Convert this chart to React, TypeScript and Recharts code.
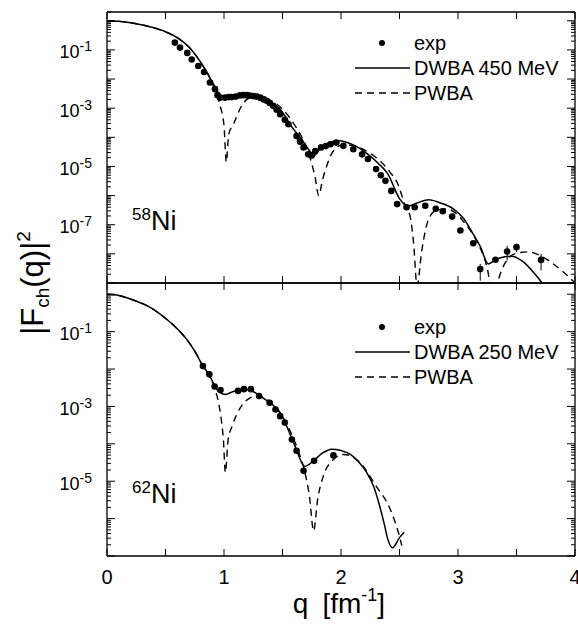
import React from 'react'
import { ComposedChart, Line, Scatter, XAxis, YAxis, Legend, ErrorBar } from 'recharts'

// x axis
const qTicks = [0, 0.5, 1, 1.5, 2, 2.5, 3, 3.5, 4]
const qLabels = [0, 1, 2, 3, 4]

// y axis decades
const topDecades = [1, 1e-1, 1e-2, 1e-3, 1e-4, 1e-5, 1e-6, 1e-7, 1e-8, 1e-9]
const topLabeled = [1e-1, 1e-3, 1e-5, 1e-7]
const bottomDecades = [1, 1e-1, 1e-2, 1e-3, 1e-4, 1e-5, 1e-6, 1e-7]
const bottomLabeled = [1e-1, 1e-3, 1e-5]
const minorSteps = [2, 3, 4, 5, 6, 7, 8, 9]

// 58Ni, DWBA 450 MeV
const topDwbaQ = [0, 0.1, 0.25, 0.4, 0.5, 0.6, 0.7, 0.8, 0.88, 0.95, 0.98, 1.05, 1.16, 1.25, 1.35, 1.48, 1.59, 1.65, 1.72, 1.77, 1.82, 1.9, 1.98, 2.1, 2.22, 2.32, 2.4, 2.5, 2.57, 2.65, 2.75, 2.85, 2.96, 3.05, 3.12, 3.19, 3.26, 3.32, 3.4, 3.46, 3.55, 3.65, 3.71, 3.75]
const topDwbaF = [1.0, 0.955, 0.79, 0.575, 0.42, 0.263, 0.126, 0.038, 0.011, 3.5e-3, 2.3e-3, 2.5e-3, 3.0e-3, 2.8e-3, 2.0e-3, 9.1e-4, 2.0e-4, 1.0e-4, 4.0e-5, 2.4e-5, 4.0e-5, 6.6e-5, 7.6e-5, 5.6e-5, 2.8e-5, 1.26e-5, 5.6e-6, 7.9e-7, 4.3e-7, 5.6e-7, 7.2e-7, 5.6e-7, 3.5e-7, 1.6e-7, 5.6e-8, 1.8e-8, 4.5e-9, 6.3e-9, 7.9e-9, 8.3e-9, 5.6e-9, 2.2e-9, 1.1e-9, 6.0e-10]

// 58Ni, PWBA
const topPwbaQ = [0, 0.1, 0.25, 0.4, 0.5, 0.6, 0.7, 0.8, 0.88, 0.93, 0.97, 1.0, 1.02, 1.04, 1.08, 1.16, 1.25, 1.35, 1.48, 1.6, 1.7, 1.75, 1.78, 1.81, 1.84, 1.88, 1.93, 2.02, 2.12, 2.25, 2.33, 2.42, 2.48, 2.55, 2.59, 2.62, 2.65, 2.69, 2.75, 2.82, 2.9, 2.98, 3.06, 3.15, 3.25, 3.3, 3.36, 3.42, 3.5, 3.6, 3.7, 3.8, 3.9, 4.0]
const topPwbaF = [1.0, 0.955, 0.794, 0.575, 0.417, 0.263, 0.126, 0.038, 0.0107, 3.5e-3, 1.1e-3, 2.5e-4, 1.4e-5, 1.26e-4, 2.8e-4, 1.4e-3, 2.5e-3, 2.2e-3, 1.1e-3, 2.8e-4, 5.0e-5, 1.26e-5, 4.0e-6, 1.0e-6, 3.2e-6, 1.1e-5, 3.2e-5, 5.6e-5, 5.0e-5, 2.8e-5, 1.6e-5, 6.3e-6, 2.8e-6, 4.5e-7, 2.0e-7, 2.5e-8, 8.0e-10, 1.26e-8, 1.6e-7, 3.2e-7, 3.5e-7, 2.5e-7, 1.1e-7, 3.2e-8, 3.2e-9, 3.2e-10, 2.0e-9, 6.3e-9, 1.05e-8, 1.17e-8, 8.9e-9, 5.0e-9, 2.4e-9, 1.0e-9]

// 58Ni, experiment
const topExpQ = [0.58, 0.624, 0.686, 0.724, 0.78, 0.83, 0.88, 0.923, 0.945, 0.966, 1.008, 1.04, 1.066, 1.1, 1.137, 1.165, 1.194, 1.22, 1.25, 1.28, 1.31, 1.34, 1.365, 1.39, 1.42, 1.45, 1.48, 1.52, 1.55, 1.62, 1.65, 1.68, 1.72, 1.75, 1.78, 1.83, 1.87, 1.91, 1.96, 2.02, 2.105, 2.18, 2.23, 2.3, 2.34, 2.38, 2.43, 2.48, 2.56, 2.63, 2.72, 2.81, 2.87, 2.95, 3.02, 3.13, 3.19, 3.32, 3.42, 3.5, 3.71]
const topExpF = [0.178, 0.12, 0.079, 0.047, 0.028, 0.0174, 7.6e-3, 4.5e-3, 2.8e-3, 2.3e-3, 2.3e-3, 2.4e-3, 2.4e-3, 2.5e-3, 2.75e-3, 2.8e-3, 2.8e-3, 2.7e-3, 2.6e-3, 2.5e-3, 2.3e-3, 2.0e-3, 1.8e-3, 1.5e-3, 1.2e-3, 8.9e-4, 6.2e-4, 4.0e-4, 2.8e-4, 1.1e-4, 7.1e-5, 4.5e-5, 2.6e-5, 2.4e-5, 3.4e-5, 4.5e-5, 5.0e-5, 5.8e-5, 6.6e-5, 5.1e-5, 3.9e-5, 2.6e-5, 1.8e-5, 8.1e-6, 5.0e-6, 3.2e-6, 1.45e-6, 5.1e-7, 4.0e-7, 4.0e-7, 4.5e-7, 3.5e-7, 2.9e-7, 1.9e-7, 6.3e-8, 2.3e-8, 3.0e-9, 6.3e-9, 1.2e-8, 1.7e-8, 6.2e-9]
const topErrQ = [3.19, 3.42, 3.5, 3.71]
const topErrLow = [1.2e-9, 5.9e-9, 1.15e-8, 2.7e-9]
const topErrHigh = [4.5e-9, 1.9e-8, 2.2e-8, 1.0e-8]

// 62Ni, DWBA 250 MeV
const botDwbaQ = [0, 0.1, 0.22, 0.35, 0.51, 0.6, 0.68, 0.75, 0.82, 0.88, 0.92, 0.96, 1.01, 1.08, 1.165, 1.22, 1.31, 1.39, 1.48, 1.535, 1.607, 1.69, 1.764, 1.84, 1.92, 2.0, 2.08, 2.15, 2.22, 2.28, 2.33, 2.37, 2.4, 2.44, 2.5, 2.54]
const botDwbaF = [1.0, 0.93, 0.71, 0.48, 0.214, 0.12, 0.063, 0.03, 0.012, 6.5e-3, 3.5e-3, 2.4e-3, 2.1e-3, 2.5e-3, 2.9e-3, 2.75e-3, 1.9e-3, 1.26e-3, 6.8e-4, 3.0e-4, 8.7e-5, 2.5e-5, 3.5e-5, 5.6e-5, 7.2e-5, 6.6e-5, 5.2e-5, 3.3e-5, 1.7e-5, 7.1e-6, 2.2e-6, 7.1e-7, 2.8e-7, 1.66e-7, 3.1e-7, 4.3e-7]

// 62Ni, PWBA
const botPwbaQ = [0, 0.1, 0.22, 0.35, 0.51, 0.6, 0.68, 0.75, 0.82, 0.88, 0.93, 0.97, 0.995, 1.012, 1.035, 1.07, 1.14, 1.21, 1.28, 1.36, 1.45, 1.55, 1.63, 1.69, 1.73, 1.766, 1.8, 1.85, 1.94, 2.02, 2.16, 2.3, 2.42, 2.49, 2.52]
const botPwbaF = [1.0, 0.93, 0.71, 0.48, 0.214, 0.12, 0.063, 0.03, 0.012, 6.0e-3, 2.5e-3, 6.3e-4, 1.26e-4, 1.7e-5, 1.26e-4, 3.0e-4, 9.3e-4, 1.6e-3, 1.9e-3, 1.6e-3, 8.9e-4, 2.8e-4, 7.1e-5, 1.8e-5, 4.0e-6, 4.7e-7, 3.2e-6, 1.4e-5, 3.9e-5, 5.2e-5, 3.2e-5, 7.4e-6, 1.8e-6, 4.3e-7, 1.9e-7]

// 62Ni, experiment
const botExpQ = [0.82, 0.875, 0.92, 0.97, 1.12, 1.17, 1.23, 1.3, 1.39, 1.44, 1.48, 1.52, 1.58, 1.62, 1.68, 1.77, 1.935]
const botExpF = [0.012, 7.2e-3, 3.4e-3, 2.75e-3, 2.6e-3, 2.9e-3, 2.9e-3, 1.9e-3, 1.26e-3, 8.3e-4, 5.5e-4, 3.7e-4, 1.3e-4, 6.5e-5, 1.9e-5, 3.5e-5, 4.9e-5]

const toRows = (qs: number[], fs: number[]) => qs.map((q, i) => ({ q, f: fs[i] }))

const topExp = topExpQ.map((q, i) => {
  const f = topExpF[i]
  const k = topErrQ.indexOf(q)
  return k < 0 ? { q, f } : { q, f, err: [f - topErrLow[k], topErrHigh[k] - f] }
})

const isDecade = (v: number) => Math.abs(Math.log10(v) - Math.round(Math.log10(v))) < 1e-6

const logTicks = (decades: number[], max: number) => {
  const out: number[] = []
  decades.forEach((d) => {
    out.push(d)
    minorSteps.forEach((m) => {
      if (d * m <= max) out.push(d * m)
    })
  })
  return out
}

const FONT = '"Liberation Sans", Arial, sans-serif'
const INK = '#000'

function leftTick(labeled: number[]) {
  return (props: any) => {
    const { x, y, payload } = props
    const v = payload.value
    const major = isDecade(v)
    const e = Math.round(Math.log10(v))
    const show = labeled.some((l) => Math.round(Math.log10(l)) === e) && major
    return (
      <g>
        <line x1={x} x2={x + (major ? 8 : 4)} y1={y} y2={y} stroke={INK} strokeWidth={1} />
        {show && (
          <text x={x - 15} y={y + 8.5} textAnchor="end" fontSize={18} fill={INK}>
            10<tspan fontSize={14} dy={-7}>{`${e}`}</tspan>
          </text>
        )}
      </g>
    )
  }
}

const rightTick = (props: any) => {
  const { x, y, payload } = props
  const major = isDecade(payload.value)
  return <line x1={x} x2={x - (major ? 8 : 4)} y1={y} y2={y} stroke={INK} strokeWidth={1} />
}

const upTick = (withLabel: boolean) => (props: any) => {
  const { x, y, payload } = props
  return (
    <g>
      <line x1={x} x2={x} y1={y} y2={y - 7} stroke={INK} strokeWidth={1} />
      {withLabel && qLabels.includes(payload.value) && (
        <text x={x} y={y + 28} textAnchor="middle" fontSize={20} fill={INK}>
          {payload.value}
        </text>
      )}
    </g>
  )
}

const downTick = (props: any) => {
  const { x, y } = props
  return <line x1={x} x2={x} y1={y} y2={y + 7} stroke={INK} strokeWidth={1} />
}

function LegendBox({ energy }: { energy: string }) {
  return (
    <svg width={230} height={80} style={{ overflow: 'visible', fontFamily: FONT }}>
      <circle cx={27} cy={13} r={3} fill={INK} />
      <text x={59} y={20} fontSize={20} fill={INK}>exp</text>
      <line x1={0} x2={55} y1={38} y2={38} stroke={INK} strokeWidth={1.5} />
      <text x={59} y={45} fontSize={20} fill={INK}>{`DWBA ${energy} MeV`}</text>
      <line x1={0} x2={55} y1={63} y2={63} stroke={INK} strokeWidth={1.5} strokeDasharray="7 5" />
      <text x={59} y={70} fontSize={20} fill={INK}>PWBA</text>
    </svg>
  )
}

const dot = (p: any) => <circle cx={p.cx} cy={p.cy} r={3.3} fill={INK} />

const axisLine = { stroke: INK, strokeWidth: 1.3 }

function Panel(props: {
  width: number
  height: number
  margin: any
  domain: [number, number]
  ticks: number[]
  labeled: number[]
  dwba: any[]
  pwba: any[]
  exp: any[]
  energy: string
  legendTop: number
  bottomHeight: number
  bottomLabels: boolean
}) {
  const { width, height, margin, domain, ticks, labeled, dwba, pwba, exp, energy, legendTop, bottomHeight, bottomLabels } = props
  return (
    <ComposedChart width={width} height={height} margin={margin}>
      <XAxis xAxisId="b" dataKey="q" type="number" domain={[0, 4]} ticks={qTicks} interval={0} height={bottomHeight} tickSize={0} tickMargin={0} tickLine={false} axisLine={axisLine} tick={upTick(bottomLabels)} allowDataOverflow />
      <XAxis xAxisId="t" orientation="top" dataKey="q" type="number" domain={[0, 4]} ticks={qTicks} interval={0} height={1} tickSize={0} tickMargin={0} tickLine={false} axisLine={axisLine} tick={downTick} allowDataOverflow />
      <YAxis yAxisId="l" scale="log" type="number" domain={domain} ticks={ticks} interval={0} width={107} tickSize={0} tickMargin={0} tickLine={false} axisLine={axisLine} tick={leftTick(labeled)} allowDataOverflow />
      <YAxis yAxisId="r" orientation="right" scale="log" type="number" domain={domain} ticks={ticks} interval={0} width={1} tickSize={0} tickMargin={0} tickLine={false} axisLine={axisLine} tick={rightTick} allowDataOverflow />
      <Legend
        layout="horizontal"
        verticalAlign="middle"
        align="center"
        wrapperStyle={{ top: legendTop, left: 355, width: 230 }}
        content={() => <LegendBox energy={energy} />}
      />
      <Line xAxisId="b" yAxisId="l" data={pwba} dataKey="f" type="monotone" stroke={INK} strokeWidth={1.4} strokeDasharray="7 5" dot={false} isAnimationActive={false} />
      <Line xAxisId="b" yAxisId="l" data={dwba} dataKey="f" type="monotone" stroke={INK} strokeWidth={1.5} dot={false} isAnimationActive={false} />
      <Scatter xAxisId="b" yAxisId="l" data={exp} dataKey="f" shape={dot} isAnimationActive={false}>
        <ErrorBar dataKey="err" direction="y" width={0} stroke={INK} strokeWidth={1} />
      </Scatter>
    </ComposedChart>
  )
}

export default function App() {
  return (
    <div style={{ position: 'absolute', left: 0, top: 0, width: 578, height: 633, background: '#fff', fontFamily: FONT }}>
      <div style={{ position: 'absolute', left: 0, top: 0 }}>
        <Panel
          width={578}
          height={284}
          margin={{ top: 11, right: 2, bottom: 0, left: 0 }}
          domain={[1e-9, 2]}
          ticks={logTicks(topDecades, 2)}
          labeled={topLabeled}
          dwba={toRows(topDwbaQ, topDwbaF)}
          pwba={toRows(topPwbaQ, topPwbaF)}
          exp={topExp}
          energy="450"
          legendTop={30}
          bottomHeight={1}
          bottomLabels={false}
        />
      </div>
      <div style={{ position: 'absolute', left: 0, top: 271 }}>
        <Panel
          width={578}
          height={345}
          margin={{ top: 11, right: 2, bottom: 0, left: 0 }}
          domain={[1e-7, 2]}
          ticks={logTicks(bottomDecades, 2)}
          labeled={bottomLabeled}
          dwba={toRows(botDwbaQ, botDwbaF)}
          pwba={toRows(botPwbaQ, botPwbaF)}
          exp={toRows(botExpQ, botExpF)}
          energy="250"
          legendTop={43}
          bottomHeight={60}
          bottomLabels={true}
        />
      </div>
      <svg width={578} height={633} style={{ position: 'absolute', left: 0, top: 0, pointerEvents: 'none', fontFamily: FONT }}>
        <text x={132} y={230} fill={INK}>
          <tspan fontSize={17} dy={-10}>58</tspan>
          <tspan fontSize={27} dy={10}>Ni</tspan>
        </text>
        <text x={132} y={503} fill={INK}>
          <tspan fontSize={17} dy={-10}>62</tspan>
          <tspan fontSize={27} dy={10}>Ni</tspan>
        </text>
        <text transform="translate(43,283) rotate(-90)" textAnchor="middle" fontSize={31} fill={INK}>
          |F<tspan fontSize={19} dy={6}>ch</tspan>
          <tspan dy={-6}>(q)|</tspan>
          <tspan fontSize={19} dy={-13}>2</tspan>
        </text>
        <text x={339} y={613} textAnchor="middle" fontSize={28} fill={INK}>
          q<tspan dx={14}>[fm</tspan>
          <tspan fontSize={18} dy={-12}>-1</tspan>
          <tspan dy={12}>]</tspan>
        </text>
      </svg>
    </div>
  )
}
